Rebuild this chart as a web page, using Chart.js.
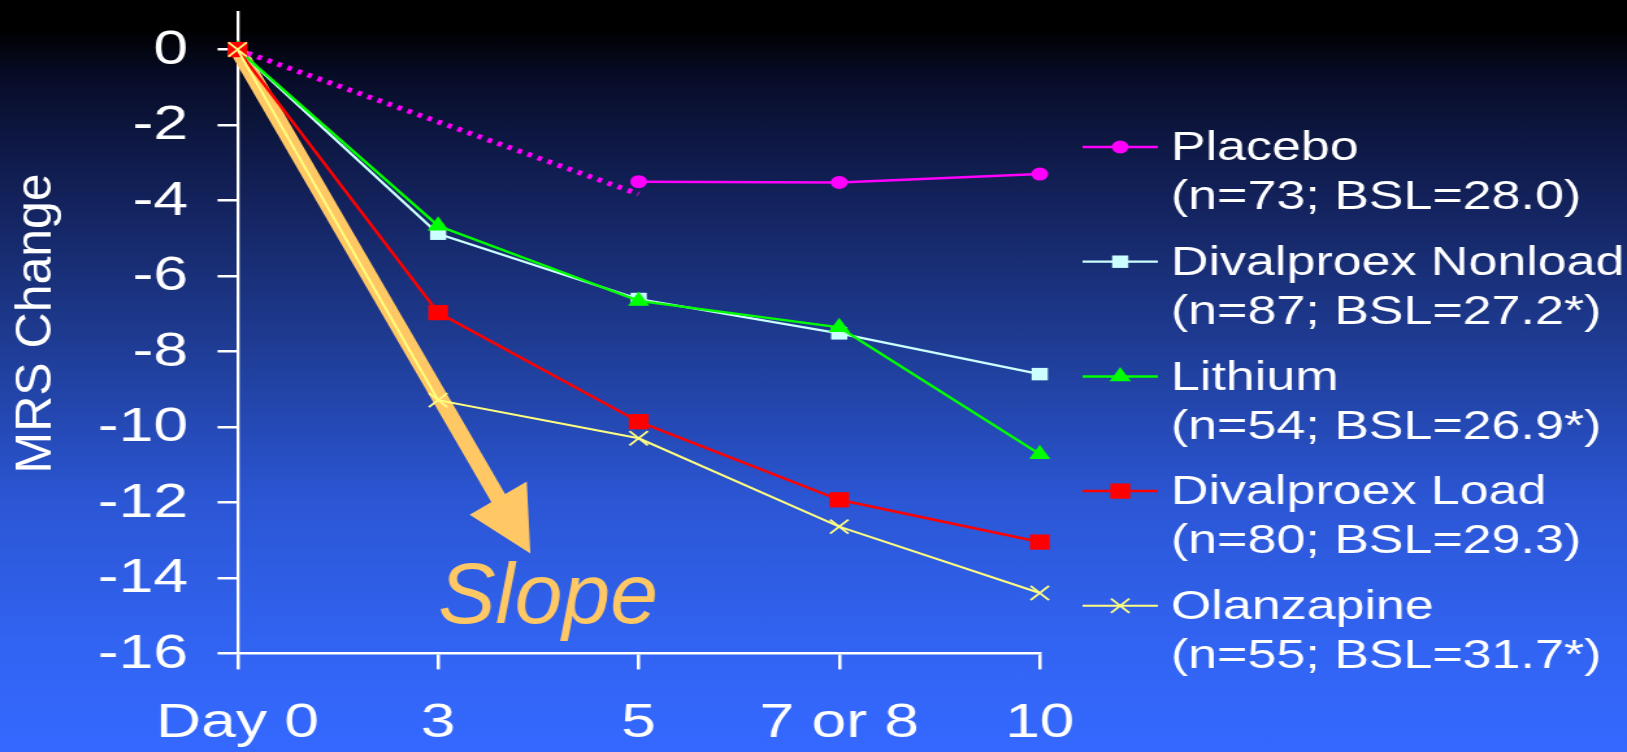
<!DOCTYPE html>
<html>
<head>
<meta charset="utf-8">
<title>MRS Change by Day</title>
<script src="https://cdn.jsdelivr.net/npm/chart.js@4.4.1/dist/chart.umd.min.js"></script>
<style>
  html, body { margin: 0; padding: 0; width: 1627px; height: 752px; overflow: hidden; }
  body {
    background: linear-gradient(to bottom,
      #000000 0px, #000000 30px, #070c26 75px, #13225c 200px,
      #1f3d96 350px, #2b56d4 500px, #3264f3 650px, #3468ff 752px);
  }
</style>
</head>
<body>
<!-- the chart is laid out on a 1252px canvas and shown widened to 1627px -->
<canvas id="chart" width="1252" height="752" style="display:block;width:1627px;height:752px;"></canvas>
<script>
// ---- data ----
const days = ['Day 0', '3', '5', '7 or 8', '10'];
const placebo           = [0, null, -3.50, -3.52, -3.30];
const placeboTrend      = [0, null, -3.83, null, null];
const divalproexNonload = [0, -4.88, -6.61, -7.52, -8.60];
const lithium           = [0, -4.67, -6.66, -7.36, -10.72];
const divalproexLoad    = [0, -6.97, -9.86, -11.93, -13.05];
const olanzapine        = [0, -9.29, -10.30, -12.64, -14.40];
const seriesNames = ['Placebo', 'Divalproex Nonload', 'Lithium', 'Divalproex Load', 'Olanzapine'];
const seriesNotes = ['(n=73; BSL=28.0)', '(n=87; BSL=27.2*)', '(n=54; BSL=26.9*)', '(n=80; BSL=29.3)', '(n=55; BSL=31.7*)'];
const yTicks = [0, -2, -4, -6, -8, -10, -12, -14, -16];
const slopeFrom = [0, 0];          // [day index, MRS change]
const slopeTo = [1.46, -13.35];
const slopeLabelAt = [1, -15.2];

// ---- layout ----
const CANVAS_W = 1252, CANVAS_H = 752;
const STRETCH = 1627 / CANVAS_W;   // horizontal display stretch of the canvas
const FONT = '"Liberation Sans", Arial, Helvetica, sans-serif';
const ORANGE = '#FFC864';

function series(label, data, color, style, radius, lineWidth, order, extra) {
  return Object.assign({
    label, data,
    borderColor: color, backgroundColor: color,
    borderWidth: lineWidth,
    pointStyle: style, pointRadius: radius, pointHoverRadius: radius,
    pointBackgroundColor: color, pointBorderColor: color, pointBorderWidth: 0,
    tension: 0, spanGaps: false, clip: false, order, inLegend: true
  }, extra || {});
}

const datasets = [
  series(seriesNames[0], placebo, '#FF00FF', 'circle', 6.5, 2.5, 4),
  series(seriesNames[1], divalproexNonload, '#CCFFFF', 'rect', 8.8, 2.2, 3),
  series(seriesNames[2], lithium, '#00FF00', 'triangle', 9.5, 2.5, 2),
  series(seriesNames[3], divalproexLoad, '#FF0000', 'rect', 10.8, 2.5, 1),
  series(seriesNames[4], olanzapine, '#FFFF80', 'crossRot', 10, 2, 0, { pointBorderWidth: 1.8 }),
  {
    label: 'Placebo trend', data: placeboTrend, inLegend: false,
    borderColor: '#FF00FF', borderWidth: 5, borderDash: [3.5, 5],
    pointRadius: 0, pointHoverRadius: 0, spanGaps: true, clip: false, tension: 0, order: 5
  }
];

// slope arrow, placed through the scales
const slopeArrow = {
  id: 'slopeArrow',
  beforeDatasetsDraw(chart) {
    const { ctx, scales: { x, y } } = chart;
    const x0 = x.getPixelForValue(slopeFrom[0]) * STRETCH, y0 = y.getPixelForValue(slopeFrom[1]);
    const x1 = x.getPixelForValue(slopeTo[0]) * STRETCH, y1 = y.getPixelForValue(slopeTo[1]);
    const len = Math.hypot(x1 - x0, y1 - y0);
    const ux = (x1 - x0) / len, uy = (y1 - y0) / len, px = -uy, py = ux;
    const headLen = 64, headHalf = 33, shaftHalf = 8;
    const bx = x1 - ux * headLen, by = y1 - uy * headLen;
    ctx.save();
    ctx.scale(1 / STRETCH, 1);
    ctx.strokeStyle = ORANGE;
    ctx.fillStyle = ORANGE;
    ctx.lineWidth = shaftHalf * 2;
    ctx.lineCap = 'round';
    ctx.beginPath();
    ctx.moveTo(x0 + ux * 6, y0 + uy * 6);
    ctx.lineTo(bx + ux * 2, by + uy * 2);
    ctx.stroke();
    ctx.beginPath();
    ctx.moveTo(x1, y1);
    ctx.lineTo(bx + px * headHalf, by + py * headHalf);
    ctx.lineTo(bx - px * headHalf, by - py * headHalf);
    ctx.closePath();
    ctx.fill();
    ctx.restore();
  },
  afterDatasetsDraw(chart) {
    const { ctx, scales: { x, y } } = chart;
    ctx.save();
    ctx.scale(1 / STRETCH, 1);
    ctx.fillStyle = ORANGE;
    ctx.font = `italic 86px ${FONT}`;
    ctx.textAlign = 'left';
    ctx.textBaseline = 'alphabetic';
    ctx.fillText('Slope', x.getPixelForValue(slopeLabelAt[0]) * STRETCH, y.getPixelForValue(slopeLabelAt[1]));
    ctx.restore();
  }
};

// rotated y-axis title
const yTitle = {
  id: 'yTitle',
  afterDraw(chart) {
    const ctx = chart.ctx;
    ctx.save();
    ctx.scale(1 / STRETCH, 1);
    ctx.translate(50.7, 323.4);
    ctx.rotate(-Math.PI / 2);
    ctx.fillStyle = '#FFFFFF';
    ctx.font = `50px ${FONT}`;
    ctx.textAlign = 'center';
    ctx.textBaseline = 'alphabetic';
    ctx.fillText('MRS Change', 0, 0);
    ctx.restore();
  }
};

// two-line legend on the right
const sideLegend = {
  id: 'sideLegend',
  afterDraw(chart) {
    const ctx = chart.ctx;
    const lineX0 = 833, lineX1 = 891, textX = 901;
    const rowY0 = 147, rowStep = 114.7, noteStep = 49;
    const items = chart.data.datasets.filter(d => d.inLegend);
    items.forEach((ds, i) => {
      const yRow = rowY0 + i * rowStep;
      ctx.save();
      ctx.strokeStyle = ds.borderColor;
      ctx.lineWidth = ds.borderWidth;
      ctx.beginPath();
      ctx.moveTo(lineX0, yRow);
      ctx.lineTo(lineX1, yRow);
      ctx.stroke();
      ctx.fillStyle = ds.pointBackgroundColor;
      ctx.strokeStyle = ds.pointBorderColor;
      ctx.lineWidth = ds.pointBorderWidth;
      Chart.helpers.drawPoint(ctx, {
        pointStyle: ds.pointStyle, radius: ds.pointRadius,
        borderWidth: ds.pointBorderWidth, rotation: 0
      }, (lineX0 + lineX1) / 2, yRow);
      ctx.fillStyle = '#FFFFFF';
      ctx.font = `40px ${FONT}`;
      ctx.textAlign = 'left';
      ctx.textBaseline = 'alphabetic';
      ctx.fillText(seriesNames[i], textX, yRow + 13.3);
      ctx.fillText(seriesNotes[i], textX, yRow + 13.3 + noteStep);
      ctx.restore();
    });
  }
};

new Chart(document.getElementById('chart'), {
  type: 'line',
  data: { labels: days, datasets },
  plugins: [slopeArrow, yTitle, sideLegend],
  options: {
    responsive: false,
    animation: false,
    devicePixelRatio: 1,
    events: [],
    layout: { padding: { left: 0, right: CANVAS_W - 800.1, top: 9.4, bottom: 0 } },
    plugins: { legend: { display: false }, tooltip: { enabled: false } },
    scales: {
      x: {
        type: 'category',
        offset: false,
        grid: { display: true, drawOnChartArea: false, drawTicks: true, tickLength: 16, color: '#FFFFFF', lineWidth: 2.5 },
        border: { display: true, color: '#FFFFFF', width: 2.5 },
        ticks: { color: '#FFFFFF', font: { family: FONT, size: 48 }, padding: 26, maxRotation: 0, autoSkip: false },
        afterFit(scale) {
          scale.height = CANVAS_H - 653.4;
          scale.paddingLeft = 0; scale.paddingRight = 0;
        }
      },
      y: {
        min: -16,
        max: 1,
        afterBuildTicks(scale) { scale.ticks = yTicks.map(v => ({ value: v })); },
        grid: { display: true, drawOnChartArea: false, drawTicks: true, tickLength: 15.4, color: '#FFFFFF', lineWidth: 2.5 },
        border: { display: true, color: '#FFFFFF', width: 2.3 },
        ticks: { color: '#FFFFFF', font: { family: FONT, size: 48 }, padding: 22.7, labelOffset: 1 },
        afterFit(scale) {
          scale.width = 182.8;
          scale.paddingTop = 0; scale.paddingBottom = 0;
        }
      }
    }
  }
});
</script>
</body>
</html>
